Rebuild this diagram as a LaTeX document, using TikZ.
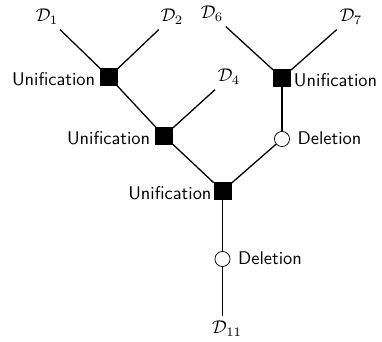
\documentclass[tikz,border=0pt]{standalone}
\begin{document}
\begin{tikzpicture}[x=0.5435pt,y=-0.5435pt,
  uni/.style={rectangle,draw,fill=black,minimum size=9.2pt,inner sep=0pt},
  del/.style={circle,draw,fill=white,minimum size=8.2pt,inner sep=0pt},
  lab/.style={font=\sffamily,inner sep=0pt},
  dlab/.style={inner sep=2.5pt},
  conn/.style={line width=0.7pt}]
\path[use as bounding box] (0,0) rectangle (382,342);
% data nodes
\node[dlab] (D1) at (47,17) {$\mathcal{D}_1$};
\node[dlab] (D2) at (172,17) {$\mathcal{D}_2$};
\node[dlab] (D4) at (229,77) {$\mathcal{D}_4$};
\node[dlab] (D6) at (212,14) {$\mathcal{D}_6$};
\node[dlab] (D7) at (351,17) {$\mathcal{D}_7$};
\node[dlab] (D11) at (227,329) {$\mathcal{D}_{11}$};
% operation nodes
\node[uni] (U1) at (109,77) {};
\node[uni] (U2) at (164,136) {};
\node[uni] (U3) at (282,78) {};
\node[uni] (U4) at (222.5,191) {};
\node[del] (X1) at (282,139) {};
\node[del] (X2) at (222.5,259) {};
% connectors
\draw[conn] (D1) -- (U1);
\draw[conn] (D2) -- (U1);
\draw[conn] (U1) -- (U2);
\draw[conn] (D4) -- (U2);
\draw[conn] (U2) -- (U4);
\draw[conn] (D6) -- (U3);
\draw[conn] (D7) -- (U3);
\draw[conn] (U3) -- (X1);
\draw[conn] (X1) -- (U4);
\draw[conn] (U4) -- (X2);
\draw[conn] (X2) -- (X2 |- D11.north);
% labels
\node[lab,anchor=base east] (L1) at ([xshift=-2.5pt,yshift=0.3pt]U1.south west) {Unification};
\node[lab,anchor=base east] (L2) at ([xshift=-2.5pt,yshift=0.3pt]U2.south west) {Unification};
\node[lab,anchor=base east] (L4) at ([xshift=-1pt,yshift=0.3pt]U4.south west) {Unification};
\node[lab,anchor=base west] (L3) at ([xshift=1.5pt,yshift=0.3pt]U3.south east) {Unification};
\node[lab,anchor=base west] (L5) at ([xshift=4pt,yshift=-3.2pt]X1.east) {Deletion};
\node[lab,anchor=base west] (L6) at ([xshift=4pt,yshift=-3.2pt]X2.east) {Deletion};
\end{tikzpicture}
\end{document}
